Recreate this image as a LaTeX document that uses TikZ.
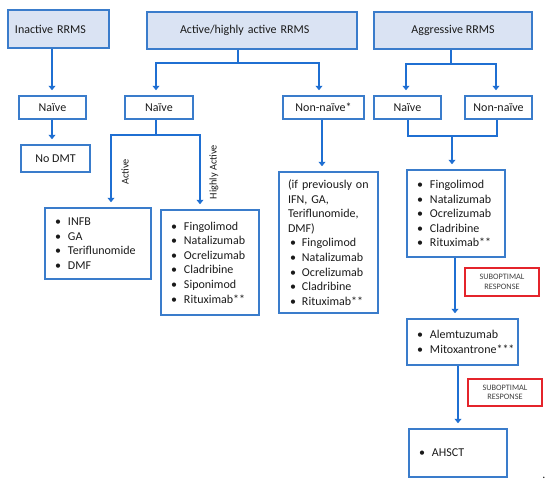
\documentclass[tikz,border=0pt]{standalone}
\usepackage{fontspec}
\setmainfont{Carlito}
\usetikzlibrary{arrows.meta}
\definecolor{lineblue}{HTML}{1F6FD2}
\definecolor{boxblue}{HTML}{3A7CCB}
\definecolor{fillblue}{HTML}{DAE3F3}
\definecolor{txt}{HTML}{1A1A1A}
\definecolor{redb}{HTML}{E4242B}
\definecolor{subtxt}{HTML}{404040}
\newcommand\itm[1]{\hspace*{6pt}\makebox[13pt][l]{\textbullet}#1}
\newcommand\itmb[1]{\hspace*{7pt}\makebox[12pt][l]{\textbullet}#1}
\begin{document}
\begin{tikzpicture}[x=1pt,y=-1pt,
 every node/.style={text=txt, font=\fontsize{12}{14.6}\selectfont},
 hdr/.style={draw=boxblue, fill=fillblue, line width=1.5pt, inner sep=0pt},
 bx/.style={draw=boxblue, line width=1.5pt, inner sep=0pt},
 lst/.style={draw=boxblue, line width=1.5pt, inner xsep=4pt, inner ysep=0pt, align=left},
 subopt/.style={draw=redb, line width=1.3pt, inner sep=0pt, align=center, text=subtxt, font=\fontsize{8.3}{9.5}\selectfont, minimum width=74pt},
 conn/.style={draw=lineblue, line width=2.4pt},
 arr/.style={conn, -{Triangle[width=7pt,length=4.5pt]}, shorten >=5pt},
 rot/.style={rotate=90, inner sep=0pt, font=\fontsize{10.3}{12}\selectfont}]
\useasboundingbox (0,0) rectangle (550,483);

% headers
\node[hdr, text width=101pt, minimum height=38pt, align=left] (inact) at (58.5,29) {\hspace*{7pt}Inactive RRMS};
\node[hdr, text width=210pt, minimum height=37pt, align=left] (act) at (252,30.5) {\hspace*{33pt}Active/highly active RRMS};
\node[hdr, minimum width=158pt, minimum height=37pt] (aggr) at (453,30.5) {Aggressive RRMS};

% second row
\node[bx, minimum width=67pt, minimum height=23pt] (n1) at (52.5,107.5) {Naïve};
\node[bx, minimum width=69pt, minimum height=27pt] (nodmt) at (55.5,158.5) {No DMT};
\node[bx, minimum width=68pt, minimum height=23pt] (n2) at (159,107.5) {Naïve};
\node[bx, minimum width=81pt, minimum height=23pt] (nn1) at (323.5,107.5) {Non-naïve*};
\node[bx, minimum width=67pt, minimum height=23pt] (n3) at (407.5,107.5) {Naïve};
\node[bx, minimum width=67pt, minimum height=23pt] (nn2) at (498.5,107.5) {Non-naïve};

% lists
\node[lst, text width=98pt, minimum height=71pt] (l1) at (98,243.5)
 {\itm{INFB}\\\itm{GA}\\\itm{Teriflunomide}\\\itm{DMF}};
\node[lst, text width=90pt, minimum height=105pt] (l2) at (210,262.5)
 {\itm{Fingolimod}\\\itm{Natalizumab}\\\itm{Ocrelizumab}\\\itm{Cladribine}\\\itm{Siponimod}\\\itm{Rituximab**}};
\node[lst, text width=91pt, minimum height=141pt] (l3) at (328.5,242.5)
 {\hspace*{5pt}(if previously on\\\hspace*{5pt}IFN, GA,\\\hspace*{5pt}Teriflunomide,\\\hspace*{5pt}DMF)\\\itmb{Fingolimod}\\\itmb{Natalizumab}\\\itmb{Ocrelizumab}\\\itmb{Cladribine}\\\itmb{Rituximab**}};
\node[lst, text width=90pt, minimum height=87pt] (l4) at (456,213.5)
 {\itm{Fingolimod}\\\itm{Natalizumab}\\\itm{Ocrelizumab}\\\itm{Cladribine}\\\itm{Rituximab**}};
\node[lst, text width=103pt, minimum height=46pt] (l5) at (462.5,342)
 {\itm{Alemtuzumab}\\\itm{Mitoxantrone***}};
\node[lst, text width=90pt, minimum height=48pt] (l6) at (458,453)
 {\itm{AHSCT}};

% suboptimal
\node[subopt, minimum height=28pt] (s1) at (502,282) {SUBOPTIMAL\\RESPONSE};
\node[subopt, minimum height=27pt] (s2) at (505,392.5) {SUBOPTIMAL\\RESPONSE};

% rotated labels
\node[rot] (lba) at (125,172) {Active};
\node[rot] (lbh) at (214,172) {Highly Active};

% dot
\node[inner sep=0pt, anchor=base] (dot) at (544,478) {.};

% connectors
\draw[arr] ([xshift=-0.5pt]n1.north |- inact.south) -- ([xshift=-0.5pt]n1.north);
\draw[arr] ([xshift=-0.5pt]n1.south) -- ([xshift=-0.5pt]n1.south |- nodmt.north);

\coordinate (ja) at (238,63);
\draw[conn] (act.south -| ja) -- (ja);
\draw[arr] (ja) -| ([xshift=-3pt]n2.north);
\draw[arr] (ja) -| ([xshift=-4.5pt]nn1.north);

\coordinate (jb) at (156,135);
\draw[conn] ([xshift=-3pt]n2.south) -- (jb);
\draw[arr] (jb) -| ([xshift=13pt]l1.north);
\draw[arr] (jb) -| ([xshift=-10pt]l2.north);

\draw[arr] ([xshift=-1.5pt]nn1.south) -- ([xshift=-1.5pt]nn1.south |- l3.north);

\coordinate (jc) at (451,64);
\draw[conn] (aggr.south -| jc) -- (jc);
\draw[arr] (jc) -| ([xshift=-1.5pt]n3.north);
\draw[arr] (jc) -| ([xshift=-2.5pt]nn2.north);

\coordinate (jd) at (452,136);
\draw[conn] ([xshift=0.5pt]n3.south) |- (jd) -| ([xshift=-1.5pt]nn2.south);
\draw[arr] (jd) -- (jd |- l4.north);

\draw[arr] ([xshift=-1pt]l4.south) -- ([xshift=-1pt]l4.south |- l5.north);
\draw[arr] ([xshift=-4.5pt]l5.south) -- ([xshift=-4.5pt]l5.south |- l6.north);
\end{tikzpicture}
\end{document}
